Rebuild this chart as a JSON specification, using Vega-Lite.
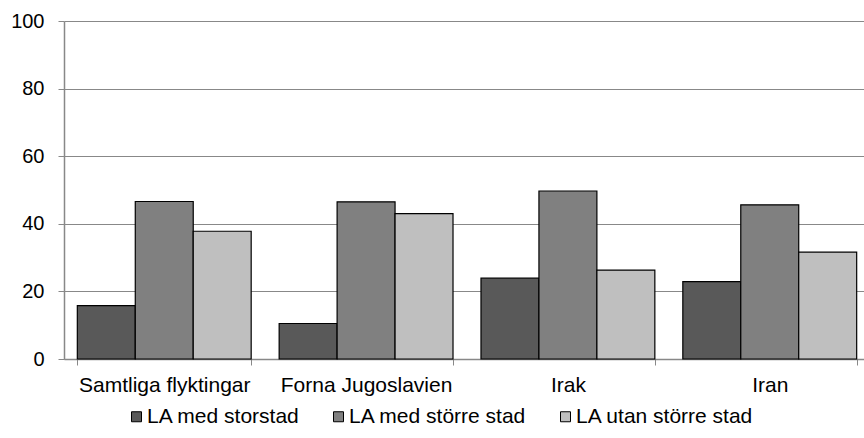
{
  "$schema": "https://vega.github.io/schema/vega-lite/v6.json",
  "width": 800,
  "height": 338,
  "autosize": {"type": "none"},
  "padding": {"left": 64, "top": 21, "right": 0, "bottom": 79},
  "config": {
    "font": "Liberation Sans",
    "view": {"stroke": null},
    "axis": {"labelFont": "Liberation Sans", "labelColor": "#000000"},
    "legend": {"labelFont": "Liberation Sans"}
  },
  "data": {
    "values": [
      {"group": "Samtliga flyktingar", "serie": "LA med storstad", "value": 15.8},
      {"group": "Samtliga flyktingar", "serie": "LA med större stad", "value": 46.6},
      {"group": "Samtliga flyktingar", "serie": "LA utan större stad", "value": 37.8},
      {"group": "Forna Jugoslavien", "serie": "LA med storstad", "value": 10.5},
      {"group": "Forna Jugoslavien", "serie": "LA med större stad", "value": 46.5},
      {"group": "Forna Jugoslavien", "serie": "LA utan större stad", "value": 43.0},
      {"group": "Irak", "serie": "LA med storstad", "value": 23.9},
      {"group": "Irak", "serie": "LA med större stad", "value": 49.7},
      {"group": "Irak", "serie": "LA utan större stad", "value": 26.3},
      {"group": "Iran", "serie": "LA med storstad", "value": 22.9},
      {"group": "Iran", "serie": "LA med större stad", "value": 45.6},
      {"group": "Iran", "serie": "LA utan större stad", "value": 31.6}
    ]
  },
  "mark": {"type": "bar", "stroke": "#000000", "strokeWidth": 1.2},
  "encoding": {
    "x": {
      "field": "group",
      "type": "nominal",
      "sort": ["Samtliga flyktingar", "Forna Jugoslavien", "Irak", "Iran"],
      "scale": {"range": [0, 806], "paddingInner": 0.1386, "paddingOuter": 0.066},
      "axis": {
        "title": null,
        "labelAngle": 0,
        "labelFontSize": 21,
        "labelPadding": 9,
        "tickSize": 6,
        "tickBand": "extent",
        "tickColor": "#888888",
        "domainColor": "#888888",
        "domainWidth": 1.5,
        "grid": false
      }
    },
    "xOffset": {
      "field": "serie",
      "type": "nominal",
      "sort": ["LA med storstad", "LA med större stad", "LA utan större stad"]
    },
    "y": {
      "field": "value",
      "type": "quantitative",
      "scale": {"domain": [0, 100], "nice": false},
      "axis": {
        "title": null,
        "values": [0, 20, 40, 60, 80, 100],
        "labelFontSize": 20,
        "labelPadding": 14,
        "tickSize": 6,
        "tickColor": "#888888",
        "domainColor": "#888888",
        "domainWidth": 1.5,
        "gridColor": "#888888",
        "gridWidth": 1.2
      }
    },
    "color": {
      "field": "serie",
      "type": "nominal",
      "sort": ["LA med storstad", "LA med större stad", "LA utan större stad"],
      "scale": {
        "domain": ["LA med storstad", "LA med större stad", "LA utan större stad"],
        "range": ["#595959", "#808080", "#bfbfbf"]
      },
      "legend": {
        "title": null,
        "orient": "none",
        "legendX": 62,
        "legendY": 385,
        "direction": "horizontal",
        "symbolType": "square",
        "symbolSize": 100,
        "symbolStrokeColor": "#000000",
        "symbolStrokeWidth": 1,
        "symbolOpacity": 1,
        "labelFontSize": 21,
        "labelColor": "#000000",
        "labelLimit": 400,
        "labelOffset": 0,
        "columnPadding": 28
      }
    }
  }
}
